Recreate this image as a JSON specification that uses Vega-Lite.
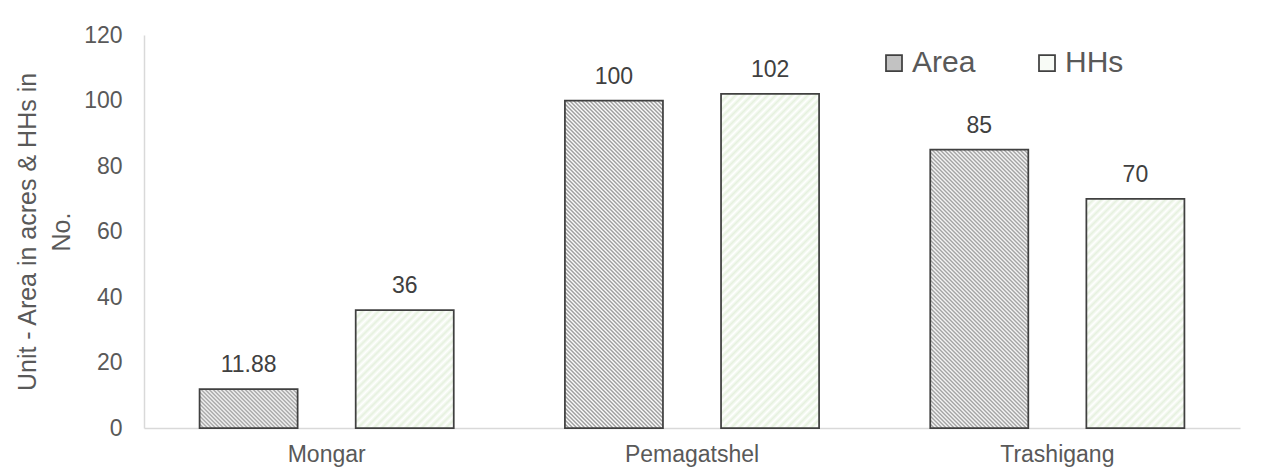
{
  "$schema": "https://vega.github.io/schema/vega-lite/v6.json",
  "width": 1096,
  "height": 393,
  "autosize": {"type": "none"},
  "padding": {"left": 144, "top": 35, "right": 29, "bottom": 40},
  "background": "#ffffff",
  "config": {"view": {"stroke": null}, "font": "Liberation Sans"},
  "data": {
    "values": [
      {"district": "Mongar", "series": "Area", "value": 11.88},
      {"district": "Mongar", "series": "HHs", "value": 36},
      {"district": "Pemagatshel", "series": "Area", "value": 100},
      {"district": "Pemagatshel", "series": "HHs", "value": 102},
      {"district": "Trashigang", "series": "Area", "value": 85},
      {"district": "Trashigang", "series": "HHs", "value": 70}
    ]
  },
  "encoding": {
    "x": {
      "field": "district",
      "type": "nominal",
      "sort": ["Mongar", "Pemagatshel", "Trashigang"],
      "scale": {"paddingInner": 0, "paddingOuter": 0},
      "axis": {
        "title": null,
        "labelAngle": 0,
        "ticks": false,
        "tickSize": 0,
        "grid": false,
        "labelPadding": 15,
        "labelFontSize": 23,
        "labelColor": "#595959",
        "domainColor": "#d9d9d9",
        "domainWidth": 1.5
      }
    },
    "xOffset": {
      "field": "series",
      "type": "nominal",
      "sort": ["Area", "HHs"],
      "scale": {"paddingInner": 0.372, "paddingOuter": 0.356}
    },
    "y": {
      "field": "value",
      "type": "quantitative",
      "scale": {"domain": [0, 120], "nice": false},
      "axis": {
        "values": [0, 20, 40, 60, 80, 100, 120],
        "grid": false,
        "ticks": false,
        "tickSize": 0,
        "labelPadding": 22,
        "labelFontSize": 23,
        "labelColor": "#595959",
        "domainColor": "#d9d9d9",
        "domainWidth": 1.5,
        "title": ["Unit - Area in acres & HHs in", "No."],
        "titleFontSize": 25,
        "titleFontWeight": "normal",
        "titleColor": "#595959",
        "titleLineHeight": 34,
        "titleBaseline": "bottom",
        "titleX": -104
      }
    }
  },
  "layer": [
    {
      "mark": {"type": "bar", "stroke": "#404040", "strokeWidth": 1.75},
      "encoding": {
        "fill": {
          "condition": [
            {
              "test": "datum.district === 'Mongar' && datum.series === 'Area'",
              "value": {
                "gradient": "linear", "x1": 0, "y1": 1, "x2": 1.7623, "y2": 0.3007,
                "stops": [
                  {"offset":0,"color":"#999"},{"offset":0.01,"color":"#fff"},{"offset":0.02,"color":"#999"},{"offset":0.03,"color":"#fff"},{"offset":0.04,"color":"#999"},{"offset":0.05,"color":"#fff"},{"offset":0.06,"color":"#999"},{"offset":0.07,"color":"#fff"},{"offset":0.08,"color":"#999"},{"offset":0.09,"color":"#fff"},
                  {"offset":0.1,"color":"#999"},{"offset":0.11,"color":"#fff"},{"offset":0.12,"color":"#999"},{"offset":0.13,"color":"#fff"},{"offset":0.14,"color":"#999"},{"offset":0.15,"color":"#fff"},{"offset":0.16,"color":"#999"},{"offset":0.17,"color":"#fff"},{"offset":0.18,"color":"#999"},{"offset":0.19,"color":"#fff"},
                  {"offset":0.2,"color":"#999"},{"offset":0.21,"color":"#fff"},{"offset":0.22,"color":"#999"},{"offset":0.23,"color":"#fff"},{"offset":0.24,"color":"#999"},{"offset":0.25,"color":"#fff"},{"offset":0.26,"color":"#999"},{"offset":0.27,"color":"#fff"},{"offset":0.28,"color":"#999"},{"offset":0.29,"color":"#fff"},
                  {"offset":0.3,"color":"#999"},{"offset":0.31,"color":"#fff"},{"offset":0.32,"color":"#999"},{"offset":0.33,"color":"#fff"},{"offset":0.34,"color":"#999"},{"offset":0.35,"color":"#fff"},{"offset":0.36,"color":"#999"},{"offset":0.37,"color":"#fff"},{"offset":0.38,"color":"#999"},{"offset":0.39,"color":"#fff"},
                  {"offset":0.4,"color":"#999"},{"offset":0.41,"color":"#fff"},{"offset":0.42,"color":"#999"},{"offset":0.43,"color":"#fff"},{"offset":0.44,"color":"#999"},{"offset":0.45,"color":"#fff"},{"offset":0.46,"color":"#999"},{"offset":0.47,"color":"#fff"},{"offset":0.48,"color":"#999"},{"offset":0.49,"color":"#fff"},
                  {"offset":0.5,"color":"#999"},{"offset":0.51,"color":"#fff"},{"offset":0.52,"color":"#999"},{"offset":0.53,"color":"#fff"},{"offset":0.54,"color":"#999"},{"offset":0.55,"color":"#fff"},{"offset":0.56,"color":"#999"},{"offset":0.57,"color":"#fff"},{"offset":0.58,"color":"#999"},{"offset":0.59,"color":"#fff"},
                  {"offset":0.6,"color":"#999"},{"offset":0.61,"color":"#fff"},{"offset":0.62,"color":"#999"},{"offset":0.63,"color":"#fff"},{"offset":0.64,"color":"#999"},{"offset":0.65,"color":"#fff"},{"offset":0.66,"color":"#999"},{"offset":0.67,"color":"#fff"},{"offset":0.68,"color":"#999"},{"offset":0.69,"color":"#fff"},
                  {"offset":0.7,"color":"#999"},{"offset":0.71,"color":"#fff"},{"offset":0.72,"color":"#999"},{"offset":0.73,"color":"#fff"},{"offset":0.74,"color":"#999"},{"offset":0.75,"color":"#fff"},{"offset":0.76,"color":"#999"},{"offset":0.77,"color":"#fff"},{"offset":0.78,"color":"#999"},{"offset":0.79,"color":"#fff"},
                  {"offset":0.8,"color":"#999"},{"offset":0.81,"color":"#fff"},{"offset":0.82,"color":"#999"},{"offset":0.83,"color":"#fff"},{"offset":0.84,"color":"#999"},{"offset":0.85,"color":"#fff"},{"offset":0.86,"color":"#999"},{"offset":0.87,"color":"#fff"},{"offset":0.88,"color":"#999"},{"offset":0.89,"color":"#fff"},
                  {"offset":0.9,"color":"#999"},{"offset":0.91,"color":"#fff"},{"offset":0.92,"color":"#999"},{"offset":0.93,"color":"#fff"},{"offset":0.94,"color":"#999"},{"offset":0.95,"color":"#fff"},{"offset":0.96,"color":"#999"},{"offset":0.97,"color":"#fff"},{"offset":0.98,"color":"#999"},{"offset":0.99,"color":"#fff"},
                  {"offset":1,"color":"#999"}
                ]
              }
            },
            {
              "test": "datum.district === 'Trashigang' && datum.series === 'Area'",
              "value": {
                "gradient": "linear", "x1": 0, "y1": 1, "x2": 0.4503, "y2": -0.2783,
                "stops": [
                  {"offset":0,"color":"#999"},{"offset":0.005,"color":"#fff"},{"offset":0.01,"color":"#999"},{"offset":0.015,"color":"#fff"},{"offset":0.02,"color":"#999"},{"offset":0.025,"color":"#fff"},{"offset":0.03,"color":"#999"},{"offset":0.035,"color":"#fff"},{"offset":0.04,"color":"#999"},{"offset":0.045,"color":"#fff"},
                  {"offset":0.05,"color":"#999"},{"offset":0.055,"color":"#fff"},{"offset":0.06,"color":"#999"},{"offset":0.065,"color":"#fff"},{"offset":0.07,"color":"#999"},{"offset":0.075,"color":"#fff"},{"offset":0.08,"color":"#999"},{"offset":0.085,"color":"#fff"},{"offset":0.09,"color":"#999"},{"offset":0.095,"color":"#fff"},
                  {"offset":0.1,"color":"#999"},{"offset":0.105,"color":"#fff"},{"offset":0.11,"color":"#999"},{"offset":0.115,"color":"#fff"},{"offset":0.12,"color":"#999"},{"offset":0.125,"color":"#fff"},{"offset":0.13,"color":"#999"},{"offset":0.135,"color":"#fff"},{"offset":0.14,"color":"#999"},{"offset":0.145,"color":"#fff"},
                  {"offset":0.15,"color":"#999"},{"offset":0.155,"color":"#fff"},{"offset":0.16,"color":"#999"},{"offset":0.165,"color":"#fff"},{"offset":0.17,"color":"#999"},{"offset":0.175,"color":"#fff"},{"offset":0.18,"color":"#999"},{"offset":0.185,"color":"#fff"},{"offset":0.19,"color":"#999"},{"offset":0.195,"color":"#fff"},
                  {"offset":0.2,"color":"#999"},{"offset":0.205,"color":"#fff"},{"offset":0.21,"color":"#999"},{"offset":0.215,"color":"#fff"},{"offset":0.22,"color":"#999"},{"offset":0.225,"color":"#fff"},{"offset":0.23,"color":"#999"},{"offset":0.235,"color":"#fff"},{"offset":0.24,"color":"#999"},{"offset":0.245,"color":"#fff"},
                  {"offset":0.25,"color":"#999"},{"offset":0.255,"color":"#fff"},{"offset":0.26,"color":"#999"},{"offset":0.265,"color":"#fff"},{"offset":0.27,"color":"#999"},{"offset":0.275,"color":"#fff"},{"offset":0.28,"color":"#999"},{"offset":0.285,"color":"#fff"},{"offset":0.29,"color":"#999"},{"offset":0.295,"color":"#fff"},
                  {"offset":0.3,"color":"#999"},{"offset":0.305,"color":"#fff"},{"offset":0.31,"color":"#999"},{"offset":0.315,"color":"#fff"},{"offset":0.32,"color":"#999"},{"offset":0.325,"color":"#fff"},{"offset":0.33,"color":"#999"},{"offset":0.335,"color":"#fff"},{"offset":0.34,"color":"#999"},{"offset":0.345,"color":"#fff"},
                  {"offset":0.35,"color":"#999"},{"offset":0.355,"color":"#fff"},{"offset":0.36,"color":"#999"},{"offset":0.365,"color":"#fff"},{"offset":0.37,"color":"#999"},{"offset":0.375,"color":"#fff"},{"offset":0.38,"color":"#999"},{"offset":0.385,"color":"#fff"},{"offset":0.39,"color":"#999"},{"offset":0.395,"color":"#fff"},
                  {"offset":0.4,"color":"#999"},{"offset":0.405,"color":"#fff"},{"offset":0.41,"color":"#999"},{"offset":0.415,"color":"#fff"},{"offset":0.42,"color":"#999"},{"offset":0.425,"color":"#fff"},{"offset":0.43,"color":"#999"},{"offset":0.435,"color":"#fff"},{"offset":0.44,"color":"#999"},{"offset":0.445,"color":"#fff"},
                  {"offset":0.45,"color":"#999"},{"offset":0.455,"color":"#fff"},{"offset":0.46,"color":"#999"},{"offset":0.465,"color":"#fff"},{"offset":0.47,"color":"#999"},{"offset":0.475,"color":"#fff"},{"offset":0.48,"color":"#999"},{"offset":0.485,"color":"#fff"},{"offset":0.49,"color":"#999"},{"offset":0.495,"color":"#fff"},
                  {"offset":0.5,"color":"#999"},{"offset":0.505,"color":"#fff"},{"offset":0.51,"color":"#999"},{"offset":0.515,"color":"#fff"},{"offset":0.52,"color":"#999"},{"offset":0.525,"color":"#fff"},{"offset":0.53,"color":"#999"},{"offset":0.535,"color":"#fff"},{"offset":0.54,"color":"#999"},{"offset":0.545,"color":"#fff"},
                  {"offset":0.55,"color":"#999"},{"offset":0.555,"color":"#fff"},{"offset":0.56,"color":"#999"},{"offset":0.565,"color":"#fff"},{"offset":0.57,"color":"#999"},{"offset":0.575,"color":"#fff"},{"offset":0.58,"color":"#999"},{"offset":0.585,"color":"#fff"},{"offset":0.59,"color":"#999"},{"offset":0.595,"color":"#fff"},
                  {"offset":0.6,"color":"#999"},{"offset":0.605,"color":"#fff"},{"offset":0.61,"color":"#999"},{"offset":0.615,"color":"#fff"},{"offset":0.62,"color":"#999"},{"offset":0.625,"color":"#fff"},{"offset":0.63,"color":"#999"},{"offset":0.635,"color":"#fff"},{"offset":0.64,"color":"#999"},{"offset":0.645,"color":"#fff"},
                  {"offset":0.65,"color":"#999"},{"offset":0.655,"color":"#fff"},{"offset":0.66,"color":"#999"},{"offset":0.665,"color":"#fff"},{"offset":0.67,"color":"#999"},{"offset":0.675,"color":"#fff"},{"offset":0.68,"color":"#999"},{"offset":0.685,"color":"#fff"},{"offset":0.69,"color":"#999"},{"offset":0.695,"color":"#fff"},
                  {"offset":0.7,"color":"#999"},{"offset":0.705,"color":"#fff"},{"offset":0.71,"color":"#999"},{"offset":0.715,"color":"#fff"},{"offset":0.72,"color":"#999"},{"offset":0.725,"color":"#fff"},{"offset":0.73,"color":"#999"},{"offset":0.735,"color":"#fff"},{"offset":0.74,"color":"#999"},{"offset":0.745,"color":"#fff"},
                  {"offset":0.75,"color":"#999"},{"offset":0.755,"color":"#fff"},{"offset":0.76,"color":"#999"},{"offset":0.765,"color":"#fff"},{"offset":0.77,"color":"#999"},{"offset":0.775,"color":"#fff"},{"offset":0.78,"color":"#999"},{"offset":0.785,"color":"#fff"},{"offset":0.79,"color":"#999"},{"offset":0.795,"color":"#fff"},
                  {"offset":0.8,"color":"#999"},{"offset":0.805,"color":"#fff"},{"offset":0.81,"color":"#999"},{"offset":0.815,"color":"#fff"},{"offset":0.82,"color":"#999"},{"offset":0.825,"color":"#fff"},{"offset":0.83,"color":"#999"},{"offset":0.835,"color":"#fff"},{"offset":0.84,"color":"#999"},{"offset":0.845,"color":"#fff"},
                  {"offset":0.85,"color":"#999"},{"offset":0.855,"color":"#fff"},{"offset":0.86,"color":"#999"},{"offset":0.865,"color":"#fff"},{"offset":0.87,"color":"#999"},{"offset":0.875,"color":"#fff"},{"offset":0.88,"color":"#999"},{"offset":0.885,"color":"#fff"},{"offset":0.89,"color":"#999"},{"offset":0.895,"color":"#fff"},
                  {"offset":0.9,"color":"#999"},{"offset":0.905,"color":"#fff"},{"offset":0.91,"color":"#999"},{"offset":0.915,"color":"#fff"},{"offset":0.92,"color":"#999"},{"offset":0.925,"color":"#fff"},{"offset":0.93,"color":"#999"},{"offset":0.935,"color":"#fff"},{"offset":0.94,"color":"#999"},{"offset":0.945,"color":"#fff"},
                  {"offset":0.95,"color":"#999"},{"offset":0.955,"color":"#fff"},{"offset":0.96,"color":"#999"},{"offset":0.965,"color":"#fff"},{"offset":0.97,"color":"#999"},{"offset":0.975,"color":"#fff"},{"offset":0.98,"color":"#999"},{"offset":0.985,"color":"#fff"},{"offset":0.99,"color":"#999"},{"offset":0.995,"color":"#fff"},
                  {"offset":1,"color":"#999"}
                ]
              }
            },
            {
              "test": "datum.district === 'Pemagatshel' && datum.series === 'Area'",
              "value": {
                "gradient": "linear", "x1": 0, "y1": 1, "x2": 0.4195, "y2": -0.4011,
                "stops": [
                  {"offset":0,"color":"#999"},{"offset":0.004,"color":"#fff"},{"offset":0.008,"color":"#999"},{"offset":0.012,"color":"#fff"},{"offset":0.016,"color":"#999"},{"offset":0.02,"color":"#fff"},{"offset":0.024,"color":"#999"},{"offset":0.028,"color":"#fff"},{"offset":0.032,"color":"#999"},{"offset":0.036,"color":"#fff"},
                  {"offset":0.04,"color":"#999"},{"offset":0.044,"color":"#fff"},{"offset":0.048,"color":"#999"},{"offset":0.052,"color":"#fff"},{"offset":0.056,"color":"#999"},{"offset":0.06,"color":"#fff"},{"offset":0.064,"color":"#999"},{"offset":0.068,"color":"#fff"},{"offset":0.072,"color":"#999"},{"offset":0.076,"color":"#fff"},
                  {"offset":0.08,"color":"#999"},{"offset":0.084,"color":"#fff"},{"offset":0.088,"color":"#999"},{"offset":0.092,"color":"#fff"},{"offset":0.096,"color":"#999"},{"offset":0.1,"color":"#fff"},{"offset":0.104,"color":"#999"},{"offset":0.108,"color":"#fff"},{"offset":0.112,"color":"#999"},{"offset":0.116,"color":"#fff"},
                  {"offset":0.12,"color":"#999"},{"offset":0.124,"color":"#fff"},{"offset":0.128,"color":"#999"},{"offset":0.132,"color":"#fff"},{"offset":0.136,"color":"#999"},{"offset":0.14,"color":"#fff"},{"offset":0.144,"color":"#999"},{"offset":0.148,"color":"#fff"},{"offset":0.152,"color":"#999"},{"offset":0.156,"color":"#fff"},
                  {"offset":0.16,"color":"#999"},{"offset":0.164,"color":"#fff"},{"offset":0.168,"color":"#999"},{"offset":0.172,"color":"#fff"},{"offset":0.176,"color":"#999"},{"offset":0.18,"color":"#fff"},{"offset":0.184,"color":"#999"},{"offset":0.188,"color":"#fff"},{"offset":0.192,"color":"#999"},{"offset":0.196,"color":"#fff"},
                  {"offset":0.2,"color":"#999"},{"offset":0.204,"color":"#fff"},{"offset":0.208,"color":"#999"},{"offset":0.212,"color":"#fff"},{"offset":0.216,"color":"#999"},{"offset":0.22,"color":"#fff"},{"offset":0.224,"color":"#999"},{"offset":0.228,"color":"#fff"},{"offset":0.232,"color":"#999"},{"offset":0.236,"color":"#fff"},
                  {"offset":0.24,"color":"#999"},{"offset":0.244,"color":"#fff"},{"offset":0.248,"color":"#999"},{"offset":0.252,"color":"#fff"},{"offset":0.256,"color":"#999"},{"offset":0.26,"color":"#fff"},{"offset":0.264,"color":"#999"},{"offset":0.268,"color":"#fff"},{"offset":0.272,"color":"#999"},{"offset":0.276,"color":"#fff"},
                  {"offset":0.28,"color":"#999"},{"offset":0.284,"color":"#fff"},{"offset":0.288,"color":"#999"},{"offset":0.292,"color":"#fff"},{"offset":0.296,"color":"#999"},{"offset":0.3,"color":"#fff"},{"offset":0.304,"color":"#999"},{"offset":0.308,"color":"#fff"},{"offset":0.312,"color":"#999"},{"offset":0.316,"color":"#fff"},
                  {"offset":0.32,"color":"#999"},{"offset":0.324,"color":"#fff"},{"offset":0.328,"color":"#999"},{"offset":0.332,"color":"#fff"},{"offset":0.336,"color":"#999"},{"offset":0.34,"color":"#fff"},{"offset":0.344,"color":"#999"},{"offset":0.348,"color":"#fff"},{"offset":0.352,"color":"#999"},{"offset":0.356,"color":"#fff"},
                  {"offset":0.36,"color":"#999"},{"offset":0.364,"color":"#fff"},{"offset":0.368,"color":"#999"},{"offset":0.372,"color":"#fff"},{"offset":0.376,"color":"#999"},{"offset":0.38,"color":"#fff"},{"offset":0.384,"color":"#999"},{"offset":0.388,"color":"#fff"},{"offset":0.392,"color":"#999"},{"offset":0.396,"color":"#fff"},
                  {"offset":0.4,"color":"#999"},{"offset":0.404,"color":"#fff"},{"offset":0.408,"color":"#999"},{"offset":0.412,"color":"#fff"},{"offset":0.416,"color":"#999"},{"offset":0.42,"color":"#fff"},{"offset":0.424,"color":"#999"},{"offset":0.428,"color":"#fff"},{"offset":0.432,"color":"#999"},{"offset":0.436,"color":"#fff"},
                  {"offset":0.44,"color":"#999"},{"offset":0.444,"color":"#fff"},{"offset":0.448,"color":"#999"},{"offset":0.452,"color":"#fff"},{"offset":0.456,"color":"#999"},{"offset":0.46,"color":"#fff"},{"offset":0.464,"color":"#999"},{"offset":0.468,"color":"#fff"},{"offset":0.472,"color":"#999"},{"offset":0.476,"color":"#fff"},
                  {"offset":0.48,"color":"#999"},{"offset":0.484,"color":"#fff"},{"offset":0.488,"color":"#999"},{"offset":0.492,"color":"#fff"},{"offset":0.496,"color":"#999"},{"offset":0.5,"color":"#fff"},{"offset":0.504,"color":"#999"},{"offset":0.508,"color":"#fff"},{"offset":0.512,"color":"#999"},{"offset":0.516,"color":"#fff"},
                  {"offset":0.52,"color":"#999"},{"offset":0.524,"color":"#fff"},{"offset":0.528,"color":"#999"},{"offset":0.532,"color":"#fff"},{"offset":0.536,"color":"#999"},{"offset":0.54,"color":"#fff"},{"offset":0.544,"color":"#999"},{"offset":0.548,"color":"#fff"},{"offset":0.552,"color":"#999"},{"offset":0.556,"color":"#fff"},
                  {"offset":0.56,"color":"#999"},{"offset":0.564,"color":"#fff"},{"offset":0.568,"color":"#999"},{"offset":0.572,"color":"#fff"},{"offset":0.576,"color":"#999"},{"offset":0.58,"color":"#fff"},{"offset":0.584,"color":"#999"},{"offset":0.588,"color":"#fff"},{"offset":0.592,"color":"#999"},{"offset":0.596,"color":"#fff"},
                  {"offset":0.6,"color":"#999"},{"offset":0.604,"color":"#fff"},{"offset":0.608,"color":"#999"},{"offset":0.612,"color":"#fff"},{"offset":0.616,"color":"#999"},{"offset":0.62,"color":"#fff"},{"offset":0.624,"color":"#999"},{"offset":0.628,"color":"#fff"},{"offset":0.632,"color":"#999"},{"offset":0.636,"color":"#fff"},
                  {"offset":0.64,"color":"#999"},{"offset":0.644,"color":"#fff"},{"offset":0.648,"color":"#999"},{"offset":0.652,"color":"#fff"},{"offset":0.656,"color":"#999"},{"offset":0.66,"color":"#fff"},{"offset":0.664,"color":"#999"},{"offset":0.668,"color":"#fff"},{"offset":0.672,"color":"#999"},{"offset":0.676,"color":"#fff"},
                  {"offset":0.68,"color":"#999"},{"offset":0.684,"color":"#fff"},{"offset":0.688,"color":"#999"},{"offset":0.692,"color":"#fff"},{"offset":0.696,"color":"#999"},{"offset":0.7,"color":"#fff"},{"offset":0.704,"color":"#999"},{"offset":0.708,"color":"#fff"},{"offset":0.712,"color":"#999"},{"offset":0.716,"color":"#fff"},
                  {"offset":0.72,"color":"#999"},{"offset":0.724,"color":"#fff"},{"offset":0.728,"color":"#999"},{"offset":0.732,"color":"#fff"},{"offset":0.736,"color":"#999"},{"offset":0.74,"color":"#fff"},{"offset":0.744,"color":"#999"},{"offset":0.748,"color":"#fff"},{"offset":0.752,"color":"#999"},{"offset":0.756,"color":"#fff"},
                  {"offset":0.76,"color":"#999"},{"offset":0.764,"color":"#fff"},{"offset":0.768,"color":"#999"},{"offset":0.772,"color":"#fff"},{"offset":0.776,"color":"#999"},{"offset":0.78,"color":"#fff"},{"offset":0.784,"color":"#999"},{"offset":0.788,"color":"#fff"},{"offset":0.792,"color":"#999"},{"offset":0.796,"color":"#fff"},
                  {"offset":0.8,"color":"#999"},{"offset":0.804,"color":"#fff"},{"offset":0.808,"color":"#999"},{"offset":0.812,"color":"#fff"},{"offset":0.816,"color":"#999"},{"offset":0.82,"color":"#fff"},{"offset":0.824,"color":"#999"},{"offset":0.828,"color":"#fff"},{"offset":0.832,"color":"#999"},{"offset":0.836,"color":"#fff"},
                  {"offset":0.84,"color":"#999"},{"offset":0.844,"color":"#fff"},{"offset":0.848,"color":"#999"},{"offset":0.852,"color":"#fff"},{"offset":0.856,"color":"#999"},{"offset":0.86,"color":"#fff"},{"offset":0.864,"color":"#999"},{"offset":0.868,"color":"#fff"},{"offset":0.872,"color":"#999"},{"offset":0.876,"color":"#fff"},
                  {"offset":0.88,"color":"#999"},{"offset":0.884,"color":"#fff"},{"offset":0.888,"color":"#999"},{"offset":0.892,"color":"#fff"},{"offset":0.896,"color":"#999"},{"offset":0.9,"color":"#fff"},{"offset":0.904,"color":"#999"},{"offset":0.908,"color":"#fff"},{"offset":0.912,"color":"#999"},{"offset":0.916,"color":"#fff"},
                  {"offset":0.92,"color":"#999"},{"offset":0.924,"color":"#fff"},{"offset":0.928,"color":"#999"},{"offset":0.932,"color":"#fff"},{"offset":0.936,"color":"#999"},{"offset":0.94,"color":"#fff"},{"offset":0.944,"color":"#999"},{"offset":0.948,"color":"#fff"},{"offset":0.952,"color":"#999"},{"offset":0.956,"color":"#fff"},
                  {"offset":0.96,"color":"#999"},{"offset":0.964,"color":"#fff"},{"offset":0.968,"color":"#999"},{"offset":0.972,"color":"#fff"},{"offset":0.976,"color":"#999"},{"offset":0.98,"color":"#fff"},{"offset":0.984,"color":"#999"},{"offset":0.988,"color":"#fff"},{"offset":0.992,"color":"#999"},{"offset":0.996,"color":"#fff"},
                  {"offset":1,"color":"#999"}
                ]
              }
            },
            {
              "test": "datum.district === 'Mongar' && datum.series === 'HHs'",
              "value": {
                "gradient": "linear", "x1": 0, "y1": 0, "x2": 1.3344, "y2": 1.6045,
                "stops": [
                  {"offset":0,"color":"#e6f1df"},{"offset":0.0125,"color":"#fff"},{"offset":0.025,"color":"#e6f1df"},{"offset":0.0375,"color":"#fff"},{"offset":0.05,"color":"#e6f1df"},{"offset":0.0625,"color":"#fff"},{"offset":0.075,"color":"#e6f1df"},{"offset":0.0875,"color":"#fff"},
                  {"offset":0.1,"color":"#e6f1df"},{"offset":0.1125,"color":"#fff"},{"offset":0.125,"color":"#e6f1df"},{"offset":0.1375,"color":"#fff"},{"offset":0.15,"color":"#e6f1df"},{"offset":0.1625,"color":"#fff"},{"offset":0.175,"color":"#e6f1df"},{"offset":0.1875,"color":"#fff"},
                  {"offset":0.2,"color":"#e6f1df"},{"offset":0.2125,"color":"#fff"},{"offset":0.225,"color":"#e6f1df"},{"offset":0.2375,"color":"#fff"},{"offset":0.25,"color":"#e6f1df"},{"offset":0.2625,"color":"#fff"},{"offset":0.275,"color":"#e6f1df"},{"offset":0.2875,"color":"#fff"},
                  {"offset":0.3,"color":"#e6f1df"},{"offset":0.3125,"color":"#fff"},{"offset":0.325,"color":"#e6f1df"},{"offset":0.3375,"color":"#fff"},{"offset":0.35,"color":"#e6f1df"},{"offset":0.3625,"color":"#fff"},{"offset":0.375,"color":"#e6f1df"},{"offset":0.3875,"color":"#fff"},
                  {"offset":0.4,"color":"#e6f1df"},{"offset":0.4125,"color":"#fff"},{"offset":0.425,"color":"#e6f1df"},{"offset":0.4375,"color":"#fff"},{"offset":0.45,"color":"#e6f1df"},{"offset":0.4625,"color":"#fff"},{"offset":0.475,"color":"#e6f1df"},{"offset":0.4875,"color":"#fff"},
                  {"offset":0.5,"color":"#e6f1df"},{"offset":0.5125,"color":"#fff"},{"offset":0.525,"color":"#e6f1df"},{"offset":0.5375,"color":"#fff"},{"offset":0.55,"color":"#e6f1df"},{"offset":0.5625,"color":"#fff"},{"offset":0.575,"color":"#e6f1df"},{"offset":0.5875,"color":"#fff"},
                  {"offset":0.6,"color":"#e6f1df"},{"offset":0.6125,"color":"#fff"},{"offset":0.625,"color":"#e6f1df"},{"offset":0.6375,"color":"#fff"},{"offset":0.65,"color":"#e6f1df"},{"offset":0.6625,"color":"#fff"},{"offset":0.675,"color":"#e6f1df"},{"offset":0.6875,"color":"#fff"},
                  {"offset":0.7,"color":"#e6f1df"},{"offset":0.7125,"color":"#fff"},{"offset":0.725,"color":"#e6f1df"},{"offset":0.7375,"color":"#fff"},{"offset":0.75,"color":"#e6f1df"},{"offset":0.7625,"color":"#fff"},{"offset":0.775,"color":"#e6f1df"},{"offset":0.7875,"color":"#fff"},
                  {"offset":0.8,"color":"#e6f1df"},{"offset":0.8125,"color":"#fff"},{"offset":0.825,"color":"#e6f1df"},{"offset":0.8375,"color":"#fff"},{"offset":0.85,"color":"#e6f1df"},{"offset":0.8625,"color":"#fff"},{"offset":0.875,"color":"#e6f1df"},{"offset":0.8875,"color":"#fff"},
                  {"offset":0.9,"color":"#e6f1df"},{"offset":0.9125,"color":"#fff"},{"offset":0.925,"color":"#e6f1df"},{"offset":0.9375,"color":"#fff"},{"offset":0.95,"color":"#e6f1df"},{"offset":0.9625,"color":"#fff"},{"offset":0.975,"color":"#e6f1df"},{"offset":0.9875,"color":"#fff"},
                  {"offset":1,"color":"#e6f1df"}
                ]
              }
            },
            {
              "test": "datum.district === 'Trashigang' && datum.series === 'HHs'",
              "value": {
                "gradient": "linear", "x1": 0, "y1": 0, "x2": 0.6309, "y2": 1.475,
                "stops": [
                  {"offset":0,"color":"#e6f1df"},{"offset":0.01,"color":"#fff"},{"offset":0.02,"color":"#e6f1df"},{"offset":0.03,"color":"#fff"},{"offset":0.04,"color":"#e6f1df"},{"offset":0.05,"color":"#fff"},{"offset":0.06,"color":"#e6f1df"},{"offset":0.07,"color":"#fff"},{"offset":0.08,"color":"#e6f1df"},{"offset":0.09,"color":"#fff"},
                  {"offset":0.1,"color":"#e6f1df"},{"offset":0.11,"color":"#fff"},{"offset":0.12,"color":"#e6f1df"},{"offset":0.13,"color":"#fff"},{"offset":0.14,"color":"#e6f1df"},{"offset":0.15,"color":"#fff"},{"offset":0.16,"color":"#e6f1df"},{"offset":0.17,"color":"#fff"},{"offset":0.18,"color":"#e6f1df"},{"offset":0.19,"color":"#fff"},
                  {"offset":0.2,"color":"#e6f1df"},{"offset":0.21,"color":"#fff"},{"offset":0.22,"color":"#e6f1df"},{"offset":0.23,"color":"#fff"},{"offset":0.24,"color":"#e6f1df"},{"offset":0.25,"color":"#fff"},{"offset":0.26,"color":"#e6f1df"},{"offset":0.27,"color":"#fff"},{"offset":0.28,"color":"#e6f1df"},{"offset":0.29,"color":"#fff"},
                  {"offset":0.3,"color":"#e6f1df"},{"offset":0.31,"color":"#fff"},{"offset":0.32,"color":"#e6f1df"},{"offset":0.33,"color":"#fff"},{"offset":0.34,"color":"#e6f1df"},{"offset":0.35,"color":"#fff"},{"offset":0.36,"color":"#e6f1df"},{"offset":0.37,"color":"#fff"},{"offset":0.38,"color":"#e6f1df"},{"offset":0.39,"color":"#fff"},
                  {"offset":0.4,"color":"#e6f1df"},{"offset":0.41,"color":"#fff"},{"offset":0.42,"color":"#e6f1df"},{"offset":0.43,"color":"#fff"},{"offset":0.44,"color":"#e6f1df"},{"offset":0.45,"color":"#fff"},{"offset":0.46,"color":"#e6f1df"},{"offset":0.47,"color":"#fff"},{"offset":0.48,"color":"#e6f1df"},{"offset":0.49,"color":"#fff"},
                  {"offset":0.5,"color":"#e6f1df"},{"offset":0.51,"color":"#fff"},{"offset":0.52,"color":"#e6f1df"},{"offset":0.53,"color":"#fff"},{"offset":0.54,"color":"#e6f1df"},{"offset":0.55,"color":"#fff"},{"offset":0.56,"color":"#e6f1df"},{"offset":0.57,"color":"#fff"},{"offset":0.58,"color":"#e6f1df"},{"offset":0.59,"color":"#fff"},
                  {"offset":0.6,"color":"#e6f1df"},{"offset":0.61,"color":"#fff"},{"offset":0.62,"color":"#e6f1df"},{"offset":0.63,"color":"#fff"},{"offset":0.64,"color":"#e6f1df"},{"offset":0.65,"color":"#fff"},{"offset":0.66,"color":"#e6f1df"},{"offset":0.67,"color":"#fff"},{"offset":0.68,"color":"#e6f1df"},{"offset":0.69,"color":"#fff"},
                  {"offset":0.7,"color":"#e6f1df"},{"offset":0.71,"color":"#fff"},{"offset":0.72,"color":"#e6f1df"},{"offset":0.73,"color":"#fff"},{"offset":0.74,"color":"#e6f1df"},{"offset":0.75,"color":"#fff"},{"offset":0.76,"color":"#e6f1df"},{"offset":0.77,"color":"#fff"},{"offset":0.78,"color":"#e6f1df"},{"offset":0.79,"color":"#fff"},
                  {"offset":0.8,"color":"#e6f1df"},{"offset":0.81,"color":"#fff"},{"offset":0.82,"color":"#e6f1df"},{"offset":0.83,"color":"#fff"},{"offset":0.84,"color":"#e6f1df"},{"offset":0.85,"color":"#fff"},{"offset":0.86,"color":"#e6f1df"},{"offset":0.87,"color":"#fff"},{"offset":0.88,"color":"#e6f1df"},{"offset":0.89,"color":"#fff"},
                  {"offset":0.9,"color":"#e6f1df"},{"offset":0.91,"color":"#fff"},{"offset":0.92,"color":"#e6f1df"},{"offset":0.93,"color":"#fff"},{"offset":0.94,"color":"#e6f1df"},{"offset":0.95,"color":"#fff"},{"offset":0.96,"color":"#e6f1df"},{"offset":0.97,"color":"#fff"},{"offset":0.98,"color":"#e6f1df"},{"offset":0.99,"color":"#fff"},
                  {"offset":1,"color":"#e6f1df"}
                ]
              }
            },
            {
              "test": "datum.district === 'Pemagatshel' && datum.series === 'HHs'",
              "value": {
                "gradient": "linear", "x1": 0, "y1": 0, "x2": 0.4045, "y2": 1.3781,
                "stops": [
                  {"offset":0,"color":"#e6f1df"},{"offset":0.008,"color":"#fff"},{"offset":0.016,"color":"#e6f1df"},{"offset":0.024,"color":"#fff"},{"offset":0.032,"color":"#e6f1df"},{"offset":0.04,"color":"#fff"},{"offset":0.048,"color":"#e6f1df"},{"offset":0.056,"color":"#fff"},{"offset":0.064,"color":"#e6f1df"},{"offset":0.072,"color":"#fff"},
                  {"offset":0.08,"color":"#e6f1df"},{"offset":0.088,"color":"#fff"},{"offset":0.096,"color":"#e6f1df"},{"offset":0.104,"color":"#fff"},{"offset":0.112,"color":"#e6f1df"},{"offset":0.12,"color":"#fff"},{"offset":0.128,"color":"#e6f1df"},{"offset":0.136,"color":"#fff"},{"offset":0.144,"color":"#e6f1df"},{"offset":0.152,"color":"#fff"},
                  {"offset":0.16,"color":"#e6f1df"},{"offset":0.168,"color":"#fff"},{"offset":0.176,"color":"#e6f1df"},{"offset":0.184,"color":"#fff"},{"offset":0.192,"color":"#e6f1df"},{"offset":0.2,"color":"#fff"},{"offset":0.208,"color":"#e6f1df"},{"offset":0.216,"color":"#fff"},{"offset":0.224,"color":"#e6f1df"},{"offset":0.232,"color":"#fff"},
                  {"offset":0.24,"color":"#e6f1df"},{"offset":0.248,"color":"#fff"},{"offset":0.256,"color":"#e6f1df"},{"offset":0.264,"color":"#fff"},{"offset":0.272,"color":"#e6f1df"},{"offset":0.28,"color":"#fff"},{"offset":0.288,"color":"#e6f1df"},{"offset":0.296,"color":"#fff"},{"offset":0.304,"color":"#e6f1df"},{"offset":0.312,"color":"#fff"},
                  {"offset":0.32,"color":"#e6f1df"},{"offset":0.328,"color":"#fff"},{"offset":0.336,"color":"#e6f1df"},{"offset":0.344,"color":"#fff"},{"offset":0.352,"color":"#e6f1df"},{"offset":0.36,"color":"#fff"},{"offset":0.368,"color":"#e6f1df"},{"offset":0.376,"color":"#fff"},{"offset":0.384,"color":"#e6f1df"},{"offset":0.392,"color":"#fff"},
                  {"offset":0.4,"color":"#e6f1df"},{"offset":0.408,"color":"#fff"},{"offset":0.416,"color":"#e6f1df"},{"offset":0.424,"color":"#fff"},{"offset":0.432,"color":"#e6f1df"},{"offset":0.44,"color":"#fff"},{"offset":0.448,"color":"#e6f1df"},{"offset":0.456,"color":"#fff"},{"offset":0.464,"color":"#e6f1df"},{"offset":0.472,"color":"#fff"},
                  {"offset":0.48,"color":"#e6f1df"},{"offset":0.488,"color":"#fff"},{"offset":0.496,"color":"#e6f1df"},{"offset":0.504,"color":"#fff"},{"offset":0.512,"color":"#e6f1df"},{"offset":0.52,"color":"#fff"},{"offset":0.528,"color":"#e6f1df"},{"offset":0.536,"color":"#fff"},{"offset":0.544,"color":"#e6f1df"},{"offset":0.552,"color":"#fff"},
                  {"offset":0.56,"color":"#e6f1df"},{"offset":0.568,"color":"#fff"},{"offset":0.576,"color":"#e6f1df"},{"offset":0.584,"color":"#fff"},{"offset":0.592,"color":"#e6f1df"},{"offset":0.6,"color":"#fff"},{"offset":0.608,"color":"#e6f1df"},{"offset":0.616,"color":"#fff"},{"offset":0.624,"color":"#e6f1df"},{"offset":0.632,"color":"#fff"},
                  {"offset":0.64,"color":"#e6f1df"},{"offset":0.648,"color":"#fff"},{"offset":0.656,"color":"#e6f1df"},{"offset":0.664,"color":"#fff"},{"offset":0.672,"color":"#e6f1df"},{"offset":0.68,"color":"#fff"},{"offset":0.688,"color":"#e6f1df"},{"offset":0.696,"color":"#fff"},{"offset":0.704,"color":"#e6f1df"},{"offset":0.712,"color":"#fff"},
                  {"offset":0.72,"color":"#e6f1df"},{"offset":0.728,"color":"#fff"},{"offset":0.736,"color":"#e6f1df"},{"offset":0.744,"color":"#fff"},{"offset":0.752,"color":"#e6f1df"},{"offset":0.76,"color":"#fff"},{"offset":0.768,"color":"#e6f1df"},{"offset":0.776,"color":"#fff"},{"offset":0.784,"color":"#e6f1df"},{"offset":0.792,"color":"#fff"},
                  {"offset":0.8,"color":"#e6f1df"},{"offset":0.808,"color":"#fff"},{"offset":0.816,"color":"#e6f1df"},{"offset":0.824,"color":"#fff"},{"offset":0.832,"color":"#e6f1df"},{"offset":0.84,"color":"#fff"},{"offset":0.848,"color":"#e6f1df"},{"offset":0.856,"color":"#fff"},{"offset":0.864,"color":"#e6f1df"},{"offset":0.872,"color":"#fff"},
                  {"offset":0.88,"color":"#e6f1df"},{"offset":0.888,"color":"#fff"},{"offset":0.896,"color":"#e6f1df"},{"offset":0.904,"color":"#fff"},{"offset":0.912,"color":"#e6f1df"},{"offset":0.92,"color":"#fff"},{"offset":0.928,"color":"#e6f1df"},{"offset":0.936,"color":"#fff"},{"offset":0.944,"color":"#e6f1df"},{"offset":0.952,"color":"#fff"},
                  {"offset":0.96,"color":"#e6f1df"},{"offset":0.968,"color":"#fff"},{"offset":0.976,"color":"#e6f1df"},{"offset":0.984,"color":"#fff"},{"offset":0.992,"color":"#e6f1df"},{"offset":1,"color":"#fff"}
                ]
              }
            }
          ],
          "value": "#f6faf3"
        }
      }
    },
    {
      "mark": {"type": "text", "baseline": "alphabetic", "dy": -17, "fontSize": 23, "fill": "#404040"},
      "encoding": {
        "text": {"field": "value", "type": "quantitative"}
      }
    },
    {
      "transform": [{"filter": "false"}],
      "mark": {"type": "square", "filled": true, "stroke": "#404040", "strokeWidth": 1.75},
      "encoding": {
        "fill": {
          "field": "series",
          "type": "nominal",
          "scale": {"domain": ["Area", "HHs"], "range": ["#c2c2c2", "#f8fbf6"]},
          "legend": {
            "title": null,
            "orient": "none",
            "legendX": 735,
            "legendY": 13,
            "direction": "horizontal",
            "padding": 0,
            "symbolType": "square",
            "symbolSize": 256,
            "symbolStrokeWidth": 1.75,
            "symbolStrokeColor": "#404040",
            "symbolOpacity": 1,
            "labelFontSize": 30,
            "labelColor": "#595959",
            "labelOffset": 3,
            "columnPadding": 56
          }
        }
      }
    }
  ]
}
